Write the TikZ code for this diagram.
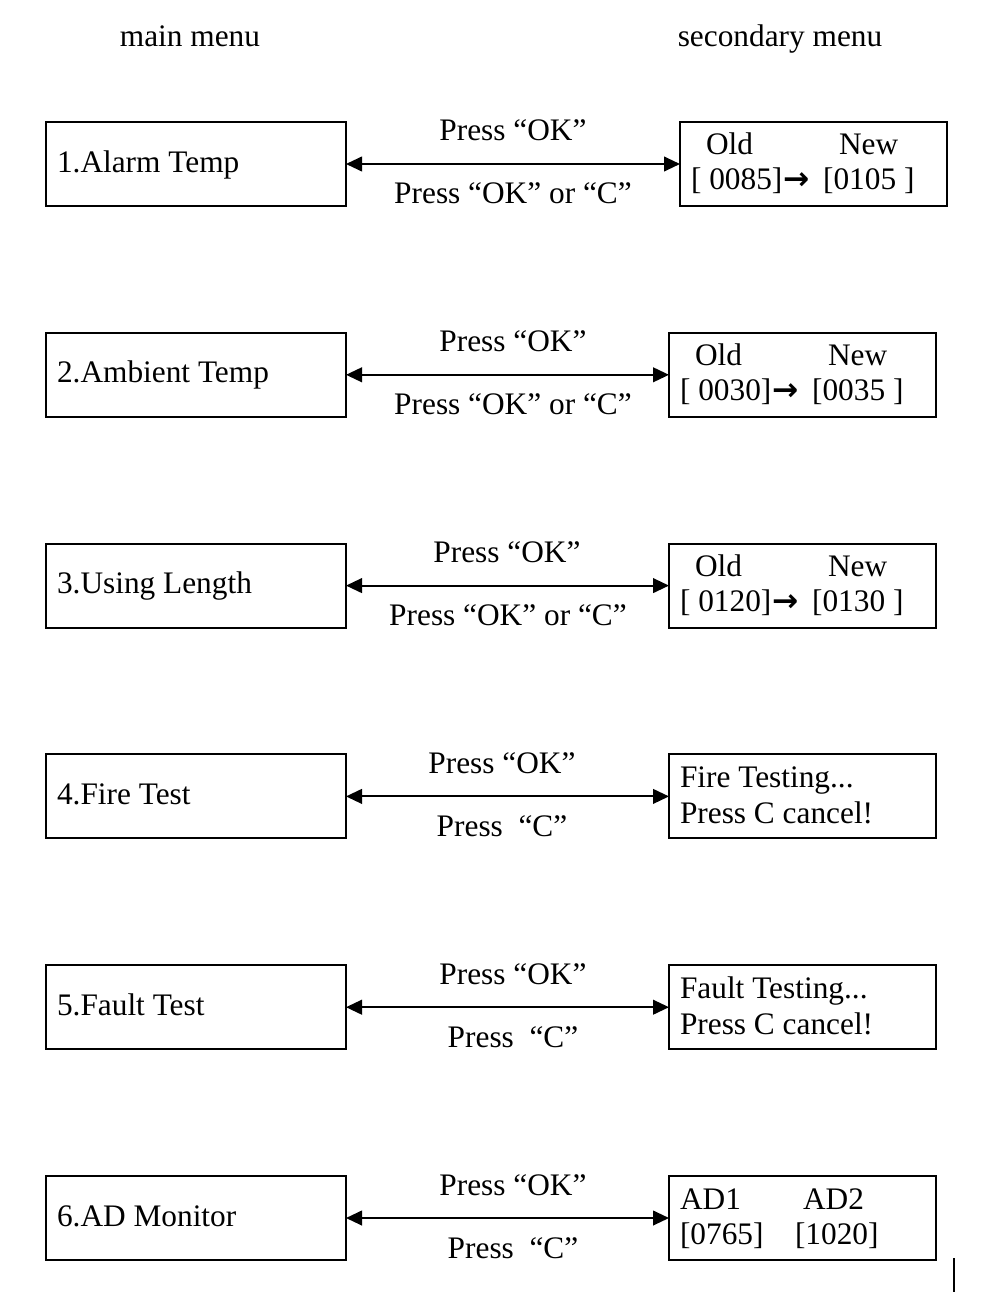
\documentclass[tikz,border=0pt]{standalone}
\usepackage{fontspec}
\setmainfont{Liberation Serif}
\newfontfamily\arrowfont{DejaVu Sans}
\usetikzlibrary{arrows.meta}
\begin{document}
\begin{tikzpicture}[x=0.75pt,y=-0.75pt,
  every node/.style={inner sep=0pt, outer sep=0pt, font=\fontsize{23.5}{28}\selectfont},
  lbox/.style={draw, line width=1.5pt, minimum width=225pt, minimum height=63pt, anchor=north west},
  rbox/.style={draw, line width=1.5pt, minimum width=200.25pt, minimum height=63pt, anchor=north west},
  txt/.style={anchor=base west},
  lab/.style={anchor=base},
  biarrow/.style={line width=1.5pt, {Triangle[length=12pt,width=11pt]}-{Triangle[length=12pt,width=11pt]}}]
\useasboundingbox (0,0) rectangle (1002,1309);
\fill[white] (0,0) rectangle (1002,1309);
\newcommand{\arr}{{\arrowfont\bfseries\kern1pt →\kern4pt}}
% headers
\node[lab] (h1) at (190,47) {main menu};
\node[lab] (h2) at (780,47) {secondary menu};
% row 1
\node[lbox] (L1) at (46,122) {};
\node[txt] (L1t) at (57,172) {1.Alarm Temp};
\node[rbox] (R1) at (680,122) {};
\draw[biarrow] (L1.east) -- (R1.west);
\node[lab] (U1) at (513,141) {Press “OK”};
\node[lab] (D1) at (513,204) {Press “OK” or “C”};
\node[txt] (R1a) at (706,155) {Old};
\node[txt] (R1b) at (839,155) {New};
\node[txt] (R1c) at (691,190) {[ 0085]\arr{} [0105 ]};
% row 2
\begin{scope}[shift={(0,210.8)}]
\node[lbox] (L2) at (46,122) {};
\node[txt] (L2t) at (57,172) {2.Ambient Temp};
\node[rbox] (R2) at (669,122) {};
\draw[biarrow] (L2.east) -- (R2.west);
\node[lab] (U2) at (513,141) {Press “OK”};
\node[lab] (D2) at (513,204) {Press “OK” or “C”};
\node[txt] (R2a) at (695,155) {Old};
\node[txt] (R2b) at (828,155) {New};
\node[txt] (R2c) at (680,190) {[ 0030]\arr{} [0035 ]};
\end{scope}
% row 3
\begin{scope}[shift={(0,421.6)}]
\node[lbox] (L3) at (46,122) {};
\node[txt] (L3t) at (57,172) {3.Using Length};
\node[rbox] (R3) at (669,122) {};
\draw[biarrow] (L3.east) -- (R3.west);
\node[lab] (U3) at (507,141) {Press “OK”};
\node[lab] (D3) at (508,204) {Press “OK” or “C”};
\node[txt] (R3a) at (695,155) {Old};
\node[txt] (R3b) at (828,155) {New};
\node[txt] (R3c) at (680,190) {[ 0120]\arr{} [0130 ]};
\end{scope}
% row 4
\begin{scope}[shift={(0,632.4)}]
\node[lbox] (L4) at (46,122) {};
\node[txt] (L4t) at (57,172) {4.Fire Test};
\node[rbox] (R4) at (669,122) {};
\draw[biarrow] (L4.east) -- (R4.west);
\node[lab] (U4) at (502,141) {Press “OK”};
\node[lab] (D4) at (502,204) {Press\ \ “C”};
\node[txt] (R4a) at (680,155) {Fire Testing...};
\node[txt] (R4b) at (680,191) {Press C cancel!};
\end{scope}
% row 5
\begin{scope}[shift={(0,843.2)}]
\node[lbox] (L5) at (46,122) {};
\node[txt] (L5t) at (57,172) {5.Fault Test};
\node[rbox] (R5) at (669,122) {};
\draw[biarrow] (L5.east) -- (R5.west);
\node[lab] (U5) at (513,141) {Press “OK”};
\node[lab] (D5) at (513,204) {Press\ \ “C”};
\node[txt] (R5a) at (680,155) {Fault Testing...};
\node[txt] (R5b) at (680,191) {Press C cancel!};
\end{scope}
% row 6
\begin{scope}[shift={(0,1054)}]
\node[lbox] (L6) at (46,122) {};
\node[txt] (L6t) at (57,172) {6.AD Monitor};
\node[rbox] (R6) at (669,122) {};
\draw[biarrow] (L6.east) -- (R6.west);
\node[lab] (U6) at (513,141) {Press “OK”};
\node[lab] (D6) at (513,204) {Press\ \ “C”};
\node[txt] (R6a) at (680,155) {AD1};
\node[txt] (R6b) at (803,155) {AD2};
\node[txt] (R6c) at (680,190) {[0765]};
\node[txt] (R6d) at (795,190) {[1020]};
\end{scope}
% stray vertical bar
\coordinate (v1) at (954,1258);
\coordinate (v2) at (954,1292);
\draw[line width=1.5pt] (v1) -- (v2);
\end{tikzpicture}
\end{document}
